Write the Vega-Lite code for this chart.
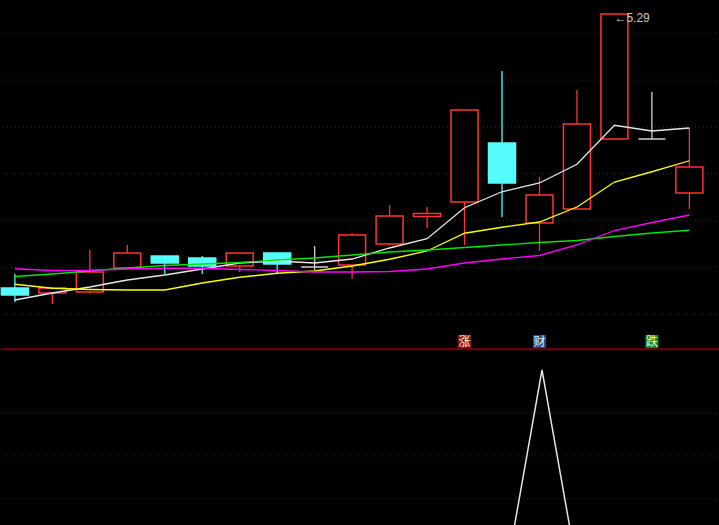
{
  "$schema": "https://vega.github.io/schema/vega-lite/v6.json",
  "background": "#000000",
  "padding": 0,
  "autosize": {"type": "pad"},
  "spacing": 0,
  "config": {"view": {"stroke": null}, "concat": {"spacing": 0}},
  "datasets": {
    "k": [
      {"i": 0, "open": 4.194, "close": 4.166, "high": 4.250, "low": 4.138, "dir": "down"},
      {"i": 1, "open": 4.174, "close": 4.194, "high": 4.198, "low": 4.130, "dir": "up"},
      {"i": 2, "open": 4.178, "close": 4.258, "high": 4.346, "low": 4.170, "dir": "up"},
      {"i": 3, "open": 4.274, "close": 4.334, "high": 4.366, "low": 4.274, "dir": "up"},
      {"i": 4, "open": 4.322, "close": 4.294, "high": 4.322, "low": 4.250, "dir": "down"},
      {"i": 5, "open": 4.314, "close": 4.282, "high": 4.322, "low": 4.250, "dir": "down"},
      {"i": 6, "open": 4.282, "close": 4.334, "high": 4.334, "low": 4.258, "dir": "up"},
      {"i": 7, "open": 4.334, "close": 4.290, "high": 4.334, "low": 4.254, "dir": "down"},
      {"i": 8, "open": 4.278, "close": 4.278, "high": 4.362, "low": 4.266, "dir": "flat"},
      {"i": 9, "open": 4.286, "close": 4.406, "high": 4.414, "low": 4.230, "dir": "up"},
      {"i": 10, "open": 4.370, "close": 4.482, "high": 4.526, "low": 4.370, "dir": "up"},
      {"i": 11, "open": 4.480, "close": 4.492, "high": 4.518, "low": 4.434, "dir": "up"},
      {"i": 12, "open": 4.538, "close": 4.906, "high": 4.906, "low": 4.366, "dir": "up"},
      {"i": 13, "open": 4.774, "close": 4.614, "high": 5.062, "low": 4.478, "dir": "down"},
      {"i": 14, "open": 4.454, "close": 4.566, "high": 4.638, "low": 4.342, "dir": "up"},
      {"i": 15, "open": 4.510, "close": 4.850, "high": 4.986, "low": 4.510, "dir": "up"},
      {"i": 16, "open": 4.790, "close": 5.290, "high": 5.290, "low": 4.790, "dir": "up"},
      {"i": 17, "open": 4.790, "close": 4.790, "high": 4.978, "low": 4.790, "dir": "flat"},
      {"i": 18, "open": 4.574, "close": 4.678, "high": 4.834, "low": 4.510, "dir": "up"}
    ],
    "ma": [
      {"i": 0, "s": "MA1", "p": 4.146}, {"i": 1, "s": "MA1", "p": 4.174}, {"i": 2, "s": "MA1", "p": 4.198}, {"i": 3, "s": "MA1", "p": 4.226}, {"i": 4, "s": "MA1", "p": 4.246}, {"i": 5, "s": "MA1", "p": 4.270}, {"i": 6, "s": "MA1", "p": 4.294}, {"i": 7, "s": "MA1", "p": 4.302}, {"i": 8, "s": "MA1", "p": 4.294}, {"i": 9, "s": "MA1", "p": 4.310}, {"i": 10, "s": "MA1", "p": 4.354}, {"i": 11, "s": "MA1", "p": 4.391}, {"i": 12, "s": "MA1", "p": 4.515}, {"i": 13, "s": "MA1", "p": 4.579}, {"i": 14, "s": "MA1", "p": 4.614}, {"i": 15, "s": "MA1", "p": 4.689}, {"i": 16, "s": "MA1", "p": 4.845}, {"i": 17, "s": "MA1", "p": 4.822}, {"i": 18, "s": "MA1", "p": 4.834},
      {"i": 0, "s": "MA2", "p": 4.209}, {"i": 1, "s": "MA2", "p": 4.193}, {"i": 2, "s": "MA2", "p": 4.188}, {"i": 3, "s": "MA2", "p": 4.186}, {"i": 4, "s": "MA2", "p": 4.186}, {"i": 5, "s": "MA2", "p": 4.214}, {"i": 6, "s": "MA2", "p": 4.237}, {"i": 7, "s": "MA2", "p": 4.253}, {"i": 8, "s": "MA2", "p": 4.262}, {"i": 9, "s": "MA2", "p": 4.282}, {"i": 10, "s": "MA2", "p": 4.309}, {"i": 11, "s": "MA2", "p": 4.342}, {"i": 12, "s": "MA2", "p": 4.413}, {"i": 13, "s": "MA2", "p": 4.437}, {"i": 14, "s": "MA2", "p": 4.458}, {"i": 15, "s": "MA2", "p": 4.518}, {"i": 16, "s": "MA2", "p": 4.618}, {"i": 17, "s": "MA2", "p": 4.659}, {"i": 18, "s": "MA2", "p": 4.703},
      {"i": 0, "s": "MA3", "p": 4.240}, {"i": 1, "s": "MA3", "p": 4.250}, {"i": 2, "s": "MA3", "p": 4.262}, {"i": 3, "s": "MA3", "p": 4.274}, {"i": 4, "s": "MA3", "p": 4.284}, {"i": 5, "s": "MA3", "p": 4.290}, {"i": 6, "s": "MA3", "p": 4.296}, {"i": 7, "s": "MA3", "p": 4.306}, {"i": 8, "s": "MA3", "p": 4.314}, {"i": 9, "s": "MA3", "p": 4.326}, {"i": 10, "s": "MA3", "p": 4.338}, {"i": 11, "s": "MA3", "p": 4.346}, {"i": 12, "s": "MA3", "p": 4.356}, {"i": 13, "s": "MA3", "p": 4.366}, {"i": 14, "s": "MA3", "p": 4.376}, {"i": 15, "s": "MA3", "p": 4.384}, {"i": 16, "s": "MA3", "p": 4.400}, {"i": 17, "s": "MA3", "p": 4.414}, {"i": 18, "s": "MA3", "p": 4.425},
      {"i": 0, "s": "MA4", "p": 4.271}, {"i": 1, "s": "MA4", "p": 4.264}, {"i": 2, "s": "MA4", "p": 4.265}, {"i": 3, "s": "MA4", "p": 4.270}, {"i": 4, "s": "MA4", "p": 4.273}, {"i": 5, "s": "MA4", "p": 4.273}, {"i": 6, "s": "MA4", "p": 4.268}, {"i": 7, "s": "MA4", "p": 4.264}, {"i": 8, "s": "MA4", "p": 4.258}, {"i": 9, "s": "MA4", "p": 4.258}, {"i": 10, "s": "MA4", "p": 4.260}, {"i": 11, "s": "MA4", "p": 4.270}, {"i": 12, "s": "MA4", "p": 4.294}, {"i": 13, "s": "MA4", "p": 4.310}, {"i": 14, "s": "MA4", "p": 4.324}, {"i": 15, "s": "MA4", "p": 4.366}, {"i": 16, "s": "MA4", "p": 4.424}, {"i": 17, "s": "MA4", "p": 4.456}, {"i": 18, "s": "MA4", "p": 4.486}
    ],
    "grid": [{"p": 5.2128}, {"p": 5.0252}, {"p": 4.838}, {"p": 4.6508}, {"p": 4.4636}, {"p": 4.2764}, {"p": 4.0892}],
    "sep": [{"p": 3.949}],
    "sig": [
      {"i": 12, "t": "涨", "c": "rise"},
      {"i": 14, "t": "财", "c": "wealth"},
      {"i": 17, "t": "跌", "c": "fall"}
    ],
    "lab": [{"i": 16, "p": 5.29, "t": "←5.29"}],
    "lgrid": [{"v": 2}, {"v": 3}, {"v": 4}],
    "ind": [
      {"i": 0, "v": 0}, {"i": 1, "v": 0}, {"i": 2, "v": 0}, {"i": 3, "v": 0}, {"i": 4, "v": 0}, {"i": 5, "v": 0}, {"i": 6, "v": 0}, {"i": 7, "v": 0}, {"i": 8, "v": 0}, {"i": 9, "v": 0}, {"i": 10, "v": 0}, {"i": 11, "v": 0}, {"i": 12, "v": 0}, {"i": 13, "v": 0}, {"i": 14, "v": 5}, {"i": 15, "v": 0}, {"i": 16, "v": 0}, {"i": 17, "v": 0}, {"i": 18, "v": 0}
    ]
  },
  "vconcat": [
    {
      "width": 719,
      "height": 350,
      "resolve": {"scale": {"color": "independent", "fill": "independent", "stroke": "independent"}},
      "layer": [
        {
          "data": {"name": "grid"},
          "mark": {"type": "rule", "color": "#A00000", "strokeDash": [1, 3], "strokeWidth": 1},
          "encoding": {
            "y": {"field": "p", "type": "quantitative", "scale": {"domain": [3.946, 5.346], "nice": false, "zero": false}, "axis": null}
          }
        },
        {
          "data": {"name": "sep"},
          "mark": {"type": "rule", "color": "#7A0000", "strokeWidth": 2},
          "encoding": {
            "y": {"field": "p", "type": "quantitative", "scale": {"domain": [3.946, 5.346], "nice": false, "zero": false}, "axis": null}
          }
        },
        {
          "data": {"name": "sig"},
          "mark": {"type": "point", "shape": "square", "filled": true, "size": 169, "opacity": 1},
          "encoding": {
            "x": {"field": "i", "type": "quantitative", "scale": {"domain": [-0.237, 18.684], "nice": false, "zero": false}, "axis": null},
            "y": {"datum": 3.98, "type": "quantitative", "scale": {"domain": [3.946, 5.346], "nice": false, "zero": false}, "axis": null},
            "fill": {"field": "c", "type": "nominal", "scale": {"domain": ["rise", "wealth", "fall"], "range": ["#8E1414", "#1E4C86", "#138A13"]}, "legend": null}
          }
        },
        {
          "data": {"name": "sig"},
          "mark": {"type": "text", "font": "Noto Sans CJK SC", "fontSize": 12, "color": "#F0F0F0", "baseline": "middle", "align": "center"},
          "encoding": {
            "x": {"field": "i", "type": "quantitative", "scale": {"domain": [-0.237, 18.684], "nice": false, "zero": false}, "axis": null},
            "y": {"datum": 3.98, "type": "quantitative", "scale": {"domain": [3.946, 5.346], "nice": false, "zero": false}, "axis": null},
            "text": {"field": "t"}
          }
        },
        {
          "data": {"name": "k"},
          "mark": {"type": "rule", "strokeWidth": 1.3},
          "encoding": {
            "x": {"field": "i", "type": "quantitative", "scale": {"domain": [-0.237, 18.684], "nice": false, "zero": false}, "axis": null},
            "y": {"field": "low", "type": "quantitative", "scale": {"domain": [3.946, 5.346], "nice": false, "zero": false}, "axis": null},
            "y2": {"field": "high"},
            "stroke": {"field": "dir", "type": "nominal", "scale": {"domain": ["up", "down", "flat"], "range": ["#FF3333", "#54FCFC", "#D0D0D0"]}, "legend": null}
          }
        },
        {
          "data": {"name": "k"},
          "mark": {"type": "bar", "orient": "vertical", "size": 27, "strokeWidth": 1.5},
          "encoding": {
            "x": {"field": "i", "type": "quantitative", "scale": {"domain": [-0.237, 18.684], "nice": false, "zero": false}, "axis": null},
            "y": {"field": "open", "type": "quantitative", "scale": {"domain": [3.946, 5.346], "nice": false, "zero": false}, "axis": null},
            "y2": {"field": "close"},
            "fill": {"field": "dir", "type": "nominal", "scale": {"domain": ["up", "down", "flat"], "range": ["#000000", "#54FCFC", "#D0D0D0"]}, "legend": null},
            "stroke": {"field": "dir", "type": "nominal", "scale": {"domain": ["up", "down", "flat"], "range": ["#FF3333", "#54FCFC", "#D0D0D0"]}, "legend": null}
          }
        },
        {
          "data": {"name": "ma"},
          "mark": {"type": "line", "strokeWidth": 1.3},
          "encoding": {
            "x": {"field": "i", "type": "quantitative", "scale": {"domain": [-0.237, 18.684], "nice": false, "zero": false}, "axis": null},
            "y": {"field": "p", "type": "quantitative", "scale": {"domain": [3.946, 5.346], "nice": false, "zero": false}, "axis": null},
            "color": {"field": "s", "type": "nominal", "scale": {"domain": ["MA4", "MA3", "MA2", "MA1"], "range": ["#FF00FF", "#00E600", "#FFFF00", "#E8E8E8"]}, "legend": null}
          }
        },
        {
          "data": {"name": "lab"},
          "mark": {"type": "text", "font": "Liberation Sans", "fontSize": 12, "color": "#C8C8C8", "align": "left", "baseline": "middle", "dy": 4},
          "encoding": {
            "x": {"field": "i", "type": "quantitative", "scale": {"domain": [-0.237, 18.684], "nice": false, "zero": false}, "axis": null},
            "y": {"field": "p", "type": "quantitative", "scale": {"domain": [3.946, 5.346], "nice": false, "zero": false}, "axis": null},
            "text": {"field": "t"}
          }
        }
      ]
    },
    {
      "width": 719,
      "height": 175,
      "layer": [
        {
          "data": {"name": "lgrid"},
          "mark": {"type": "rule", "color": "#A00000", "strokeDash": [1, 3], "strokeWidth": 1},
          "encoding": {
            "y": {"field": "v", "type": "quantitative", "scale": {"domain": [1.372, 5.44], "nice": false, "zero": false}, "axis": null}
          }
        },
        {
          "data": {"name": "ind"},
          "mark": {"type": "line", "color": "#E6E6E6", "strokeWidth": 1.5, "clip": true},
          "encoding": {
            "x": {"field": "i", "type": "quantitative", "scale": {"domain": [-0.237, 18.684], "nice": false, "zero": false}, "axis": null},
            "y": {"field": "v", "type": "quantitative", "scale": {"domain": [1.372, 5.44], "nice": false, "zero": false}, "axis": null}
          }
        }
      ]
    }
  ]
}
